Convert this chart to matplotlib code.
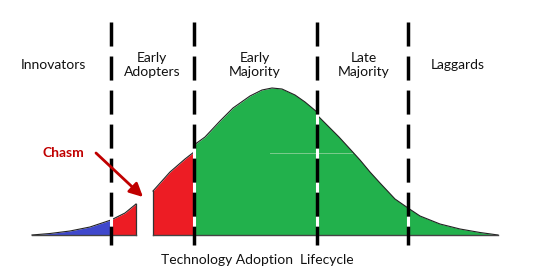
import matplotlib
matplotlib.use("Agg")
import matplotlib.pyplot as plt

plt.rcParams['font.family'] = ['Lato', 'DejaVu Sans']
plt.rcParams['lines.scale_dashes'] = False

# Curve pieces (x position, curve height)
blue_x = [32, 50, 70, 90, 111]
blue_h = [0, 1.5, 4, 8, 15]
redA_x = [111, 125, 136]
redA_h = [15, 22, 31]
redB_x = [153, 170, 185, 194]
redB_h = [44, 63, 76, 83]
greenA_x = [194, 205, 220, 233, 250, 262, 272, 282, 295, 305, 317]
greenA_h = [90, 98, 114, 127, 139, 145, 147, 146, 140, 133, 123]
greenB_x = [317, 328, 339, 350, 360, 370, 380, 395, 408, 420, 440, 460, 480, 498]
greenB_h = [120, 109, 98, 86, 75, 63, 52, 36, 27, 19, 11, 6, 2.5, 0]

dividers = [111, 194, 317, 408]
segment_labels = ["Innovators", "Early\nAdopters", "Early\nMajority", "Late\nMajority", "Laggards"]
label_x = [53, 152, 255, 364, 458]
label_y = [170, 170, 170, 170, 170]
title = "Technology Adoption  Lifecycle"

BLUE = "#3F48CC"
RED = "#ED1C24"
GREEN = "#22B14C"
DARKRED = "#C00000"

fig = plt.figure(figsize=(5.41, 2.74), dpi=100)
ax = fig.add_axes([0, 0, 1, 1])
ax.set_xlim(0, 541)
ax.set_ylim(-39, 235)
ax.axis("off")

for xs, hs, col in [(blue_x, blue_h, BLUE), (redA_x, redA_h, RED), (redB_x, redB_h, RED),
                    (greenA_x, greenA_h, GREEN), (greenB_x, greenB_h, GREEN)]:
    ax.fill_between(xs, 0, hs, color=col, lw=0, zorder=2)
    ax.plot(xs, hs, color="#222222", lw=0.8, zorder=3)

# side edges of the chasm pieces
ax.plot([redA_x[-1], redA_x[-1]], [0, redA_h[-1]], color="#333333", lw=0.9, zorder=3)
ax.plot([redB_x[0], redB_x[0]], [0, redB_h[0]], color="#333333", lw=0.9, zorder=3)

# baseline
ax.plot([blue_x[0], redA_x[-1]], [0, 0], color="#444444", lw=1.0, zorder=3)
ax.plot([redB_x[0], greenB_x[-1]], [0, 0], color="#444444", lw=1.0, zorder=3)

# faint stray line seen in the picture (inside the green area)
ax.plot([270, 352], [82, 82], color="#7CCB8E", lw=0.7, zorder=2.5)

# dashed dividers
for d in dividers:
    ax.plot([d, d], [213, -10], color="white", lw=2.2, zorder=4)
    ax.plot([d, d], [213, -10], color="black", lw=2.5, zorder=5,
            dashes=(17.3, 7.2), solid_capstyle="butt", dash_capstyle="butt")

for t, x, y in zip(segment_labels, label_x, label_y):
    ax.text(x, y, t, ha="center", va="center", fontsize=10, color="#111111",
            linespacing=1.2, zorder=6)

ax.text(63, 82, "Chasm", ha="center", va="center", fontsize=10, fontweight="bold",
        color=DARKRED, zorder=6)
ax.annotate("", xy=(143, 38), xytext=(96, 82),
            arrowprops=dict(arrowstyle="-|>,head_length=0.8,head_width=0.4",
                            color=DARKRED, lw=2.0, shrinkA=0, shrinkB=0), zorder=6)

ax.text(257, -25, title, ha="center", va="center", fontsize=10, color="#111111", zorder=6)

fig.savefig("out.png", dpi=100)
